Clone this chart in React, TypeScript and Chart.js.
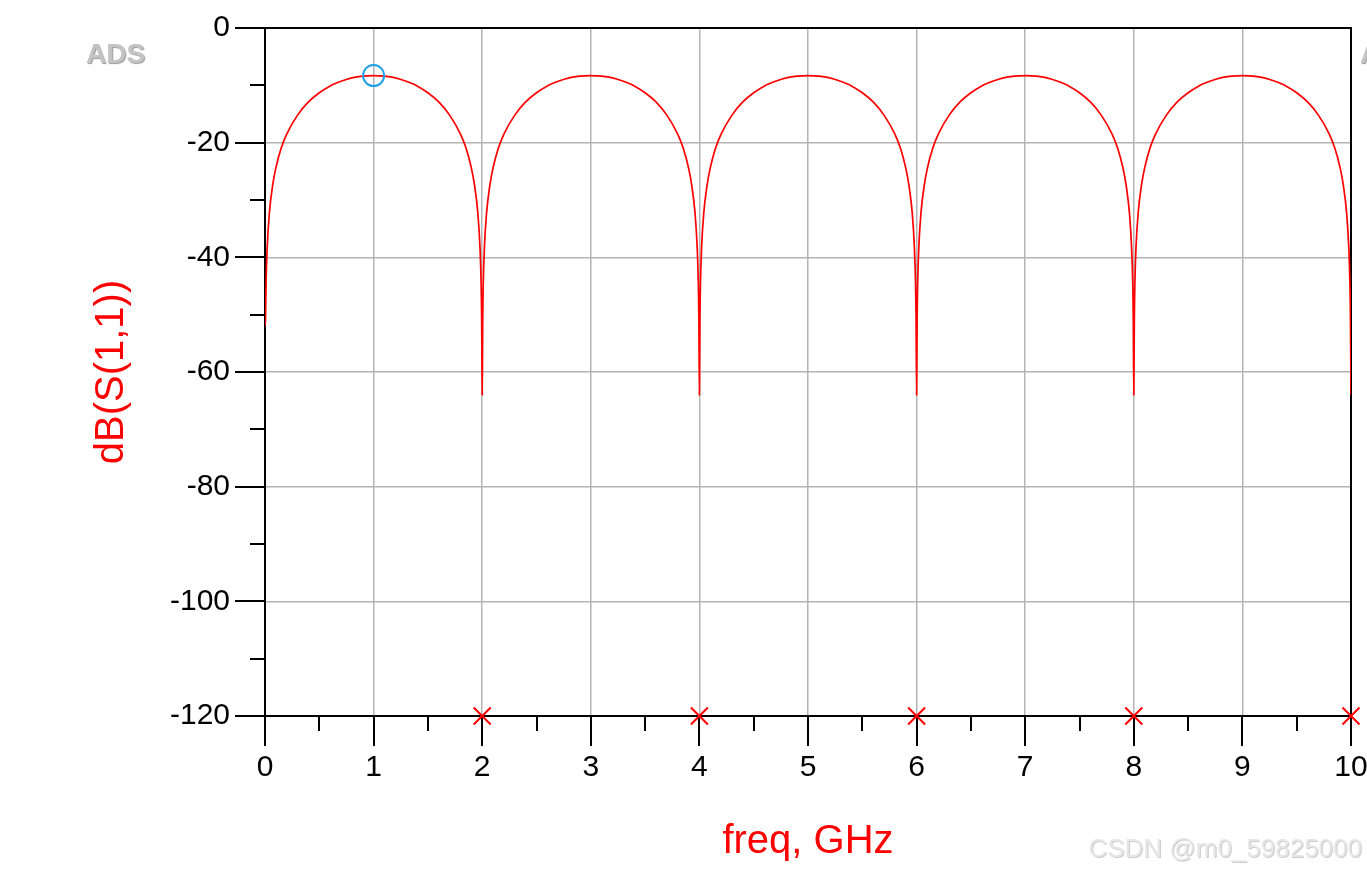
import React, { useEffect, useRef } from "react";
import { Chart, registerables } from "chart.js";

Chart.register(...registerables);

// Frequency points (GHz)
const freqGHz = [
  0, 0.005, 0.01, 0.02, 0.04, 0.07, 0.1, 0.15, 0.2, 0.3, 0.4, 0.5, 0.6, 0.7, 0.8, 0.9, 1.0, 1.1, 1.2, 1.3, 1.4, 1.5, 1.6, 1.7, 1.8, 1.85, 1.9, 1.93, 1.96, 1.98, 1.99, 1.995,
  2, 2.005, 2.01, 2.02, 2.04, 2.07, 2.1, 2.15, 2.2, 2.3, 2.4, 2.5, 2.6, 2.7, 2.8, 2.9, 3.0, 3.1, 3.2, 3.3, 3.4, 3.5, 3.6, 3.7, 3.8, 3.85, 3.9, 3.93, 3.96, 3.98, 3.99, 3.995,
  4, 4.005, 4.01, 4.02, 4.04, 4.07, 4.1, 4.15, 4.2, 4.3, 4.4, 4.5, 4.6, 4.7, 4.8, 4.9, 5.0, 5.1, 5.2, 5.3, 5.4, 5.5, 5.6, 5.7, 5.8, 5.85, 5.9, 5.93, 5.96, 5.98, 5.99, 5.995,
  6, 6.005, 6.01, 6.02, 6.04, 6.07, 6.1, 6.15, 6.2, 6.3, 6.4, 6.5, 6.6, 6.7, 6.8, 6.9, 7.0, 7.1, 7.2, 7.3, 7.4, 7.5, 7.6, 7.7, 7.8, 7.85, 7.9, 7.93, 7.96, 7.98, 7.99, 7.995,
  8, 8.005, 8.01, 8.02, 8.04, 8.07, 8.1, 8.15, 8.2, 8.3, 8.4, 8.5, 8.6, 8.7, 8.8, 8.9, 9.0, 9.1, 9.2, 9.3, 9.4, 9.5, 9.6, 9.7, 9.8, 9.85, 9.9, 9.93, 9.96, 9.98, 9.99, 9.995,
  10,
];

// dB(S(1,1)) values
const s11dB = [
  -52, -50.4, -44.4, -38.4, -32.3, -27.5, -24.4, -20.9, -18.5, -15.2, -12.9, -11.3, -10.1, -9.3, -8.7, -8.4, -8.3, -8.4, -8.7, -9.3, -10.1, -11.3, -12.9, -15.2, -18.5, -20.9, -24.4, -27.5, -32.3, -38.4, -44.4, -50.4,
  -64, -50.4, -44.4, -38.4, -32.3, -27.5, -24.4, -20.9, -18.5, -15.2, -12.9, -11.3, -10.1, -9.3, -8.7, -8.4, -8.3, -8.4, -8.7, -9.3, -10.1, -11.3, -12.9, -15.2, -18.5, -20.9, -24.4, -27.5, -32.3, -38.4, -44.4, -50.4,
  -64, -50.4, -44.4, -38.4, -32.3, -27.5, -24.4, -20.9, -18.5, -15.2, -12.9, -11.3, -10.1, -9.3, -8.7, -8.4, -8.3, -8.4, -8.7, -9.3, -10.1, -11.3, -12.9, -15.2, -18.5, -20.9, -24.4, -27.5, -32.3, -38.4, -44.4, -50.4,
  -64, -50.4, -44.4, -38.4, -32.3, -27.5, -24.4, -20.9, -18.5, -15.2, -12.9, -11.3, -10.1, -9.3, -8.7, -8.4, -8.3, -8.4, -8.7, -9.3, -10.1, -11.3, -12.9, -15.2, -18.5, -20.9, -24.4, -27.5, -32.3, -38.4, -44.4, -50.4,
  -64, -50.4, -44.4, -38.4, -32.3, -27.5, -24.4, -20.9, -18.5, -15.2, -12.9, -11.3, -10.1, -9.3, -8.7, -8.4, -8.3, -8.4, -8.7, -9.3, -10.1, -11.3, -12.9, -15.2, -18.5, -20.9, -24.4, -27.5, -32.3, -38.4, -44.4, -50.4,
  -64,
];

// red "x" markers on the x axis
const crossFreqGHz = [2, 4, 6, 8, 10];
const crossDb = [-120, -120, -120, -120, -120];

// blue circle marker
const markerFreqGHz = [1];
const markerDb = [-8.3];

const xAxisTitle = "freq, GHz";
const yAxisTitle = "dB(S(1,1))";

const FONT = "'Liberation Sans', Arial, sans-serif";

export default function App() {
  const ref = useRef<HTMLCanvasElement>(null);

  useEffect(() => {
    document.body.style.margin = "0";
    const canvas = ref.current;
    if (!canvas) return;

    const frame = {
      id: "adsFrame",
      beforeDatasetsDraw(chart: any) {
        const { ctx, chartArea } = chart;
        const { left, right, top, bottom } = chartArea;
        const xs = chart.scales.x;
        const ys = chart.scales.y;
        ctx.save();
        ctx.strokeStyle = "#000";
        ctx.lineWidth = 2;
        ctx.beginPath();
        ctx.moveTo(left, top);
        ctx.lineTo(right, top);
        ctx.lineTo(right, bottom);
        xs.ticks.forEach((t: any) => {
          const px = Math.round(xs.getPixelForValue(t.value));
          const len = Number.isInteger(t.value) ? 30 : 15;
          ctx.moveTo(px, bottom);
          ctx.lineTo(px, bottom + len);
        });
        ys.ticks.forEach((t: any) => {
          const py = Math.round(ys.getPixelForValue(t.value));
          const len = t.value % 20 === 0 ? 30 : 15;
          ctx.moveTo(left - len, py);
          ctx.lineTo(left, py);
        });
        ctx.stroke();
        ctx.restore();
      },
      afterDraw(chart: any) {
        const { ctx, chartArea } = chart;
        const { left, right, top, bottom } = chartArea;
        ctx.save();
        // axis titles
        ctx.fillStyle = "#ff0000";
        ctx.font = `40px ${FONT}`;
        ctx.textAlign = "center";
        ctx.textBaseline = "alphabetic";
        ctx.fillText(xAxisTitle, (left + right) / 2, 853);
        ctx.save();
        ctx.translate(123, (top + bottom) / 2);
        ctx.rotate(-Math.PI / 2);
        ctx.fillText(yAxisTitle, 0, 0);
        ctx.restore();
        // ADS watermarks
        ctx.font = `bold 28px ${FONT}`;
        ctx.textAlign = "left";
        ctx.shadowColor = "rgba(110,110,110,0.7)";
        ctx.shadowOffsetX = 1;
        ctx.shadowOffsetY = 1;
        ctx.shadowBlur = 1;
        ctx.fillStyle = "#c4c4c4";
        ctx.fillText("ADS", 86, 63);
        ctx.fillText("ADS", 1360, 63);
        // CSDN watermark
        ctx.font = `26px ${FONT}`;
        ctx.textAlign = "right";
        ctx.shadowColor = "rgba(170,170,170,0.6)";
        ctx.shadowBlur = 0.5;
        ctx.fillStyle = "#e6e6e6";
        ctx.fillText("CSDN @m0_59825000", 1362, 857);
        ctx.restore();
      },
    };

    const chart = new Chart(canvas, {
      type: "line",
      data: {
        datasets: [
          {
            label: "markers",
            data: markerFreqGHz.map((f, i) => ({ x: f, y: markerDb[i] })),
            showLine: false,
            pointStyle: "circle",
            pointRadius: 10.5,
            pointBorderColor: "#1ea0e6",
            pointBackgroundColor: "rgba(0,0,0,0)",
            pointBorderWidth: 2,
            borderColor: "#1ea0e6",
            clip: false,
            order: 0,
          } as any,
          {
            label: "dB(S(1,1))",
            data: freqGHz.map((f, i) => ({ x: f, y: s11dB[i] })),
            borderColor: "#ff0000",
            borderWidth: 1.7,
            pointRadius: 0,
            cubicInterpolationMode: "monotone",
            fill: false,
            order: 2,
          } as any,
          {
            label: "nulls",
            data: crossFreqGHz.map((f, i) => ({ x: f, y: crossDb[i] })),
            showLine: false,
            pointStyle: "crossRot",
            pointRadius: 12,
            pointBorderColor: "#ff0000",
            pointBorderWidth: 2,
            borderColor: "#ff0000",
            clip: false,
            order: 1,
          } as any,
        ],
      },
      options: {
        responsive: false,
        animation: false,
        events: [],
        layout: { padding: { left: 0, top: 28, right: 16, bottom: 0 } },
        plugins: {
          legend: { display: false },
          tooltip: { enabled: false },
          title: { display: false },
        },
        scales: {
          x: {
            type: "linear",
            min: 0,
            max: 10,
            afterFit(scale: any) {
              scale.height = 153;
              scale.paddingLeft = 0;
              scale.paddingRight = 0;
            },
            border: { display: true, color: "#000", width: 2 },
            grid: {
              color: (c: any) =>
                c.tick && Number.isInteger(c.tick.value) ? "#b4b4b4" : "rgba(0,0,0,0)",
              lineWidth: 1.5,
              drawTicks: true,
              tickLength: 30,
              tickColor: "rgba(0,0,0,0)",
            },
            ticks: {
              stepSize: 0.5,
              autoSkip: false,
              maxRotation: 0,
              minRotation: 0,
              padding: 4,
              color: "#000",
              font: { family: FONT, size: 30 },
              callback: (v: any) => (Number.isInteger(Number(v)) ? String(v) : ""),
            },
          },
          y: {
            type: "linear",
            min: -120,
            max: 0,
            afterFit(scale: any) {
              scale.width = 265;
              scale.paddingTop = 0;
              scale.paddingBottom = 0;
            },
            border: { display: true, color: "#000", width: 2 },
            grid: {
              color: (c: any) =>
                c.tick && c.tick.value % 20 === 0 ? "#b4b4b4" : "rgba(0,0,0,0)",
              lineWidth: 1.5,
              drawTicks: true,
              tickLength: 30,
              tickColor: "rgba(0,0,0,0)",
            },
            ticks: {
              stepSize: 10,
              autoSkip: false,
              padding: 5,
              color: "#000",
              font: { family: FONT, size: 30 },
              callback: (v: any) => (Number(v) % 20 === 0 ? String(v) : ""),
            },
          },
        },
      },
      plugins: [frame],
    });

    return () => chart.destroy();
  }, []);

  return (
    <div style={{ width: 1367, height: 869 }}>
      <canvas ref={ref} width={1367} height={869} style={{ display: "block" }} />
    </div>
  );
}
